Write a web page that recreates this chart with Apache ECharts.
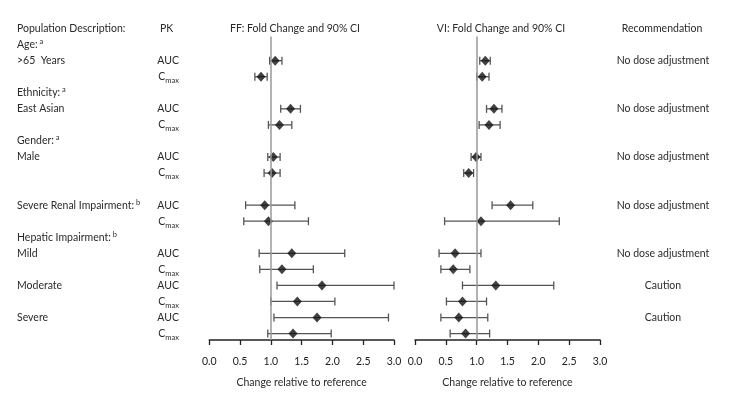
<!DOCTYPE html>
<html><head><meta charset="utf-8">
<script src="https://cdn.jsdelivr.net/npm/echarts@6/dist/echarts.min.js"></script>
<style>html,body{margin:0;padding:0;background:#fff}#c{width:729px;height:393px}</style>
</head><body><div id="c"></div>
<script>
// row slot of each PK line (slot 0 = header row)
const rowSlots = [2, 3, 5, 6, 8, 9, 11, 12, 14, 15, 16, 17, 18, 19];
const pkLabels = ['AUC','Cmax','AUC','Cmax','AUC','Cmax','AUC','Cmax','AUC','Cmax','AUC','Cmax','AUC','Cmax'];
const ffEst  = [1.07, 0.84, 1.32, 1.14, 1.04, 1.02, 0.90, 0.96, 1.34, 1.18, 1.83, 1.43, 1.75, 1.36];
const ffLow  = [0.98, 0.74, 1.16, 0.96, 0.95, 0.89, 0.59, 0.56, 0.81, 0.82, 1.10, 1.00, 1.05, 0.95];
const ffHigh = [1.18, 0.94, 1.48, 1.34, 1.15, 1.15, 1.39, 1.61, 2.20, 1.69, 3.00, 2.04, 2.91, 1.98];
const viEst  = [1.14, 1.09, 1.28, 1.20, 0.99, 0.87, 1.55, 1.07, 0.65, 0.62, 1.31, 0.77, 0.71, 0.82];
const viLow  = [1.05, 1.00, 1.16, 1.04, 0.91, 0.79, 1.25, 0.48, 0.39, 0.42, 0.77, 0.51, 0.42, 0.57];
const viHigh = [1.22, 1.20, 1.41, 1.38, 1.07, 0.95, 1.91, 2.34, 1.07, 0.89, 2.25, 1.16, 1.18, 1.21];
const xTicks = [0, 0.5, 1.0, 1.5, 2.0, 2.5, 3.0];
// description labels: slot, text, superscript
const descSlots = [1, 2, 4, 5, 7, 8, 11, 13, 14, 16, 18];
const descTexts = ['Age:', '>65  Years', 'Ethnicity:', 'East Asian', 'Gender:', 'Male', 'Severe Renal Impairment:', 'Hepatic Impairment:', 'Mild', 'Moderate', 'Severe'];
const descSups  = ['a', '', 'a', '', 'a', '', 'b', 'b', '', '', ''];
const recSlots = [2, 5, 8, 11, 14, 16, 18];
const recTexts = ['No dose adjustment','No dose adjustment','No dose adjustment','No dose adjustment','No dose adjustment','Caution','Caution'];
const headers = ['Population Description:', 'PK', 'FF: Fold Change and 90% CI', 'VI: Fold Change and 90% CI', 'Recommendation'];

const FONT = 'Lato';
const TXT = '#2a2a2a';
const chart = echarts.init(document.getElementById('c'), null, {renderer: 'canvas'});

function ciRender(params, api) {
  const y = api.coord([0, api.value(0)])[1];
  const x1 = api.coord([api.value(1), 0])[0];
  const x2 = api.coord([api.value(2), 0])[0];
  const h = 4;
  const style = {stroke: '#555', lineWidth: 1.3};
  return {type: 'group', children: [
    {type: 'line', shape: {x1: x1, y1: y, x2: x2, y2: y}, style: style},
    {type: 'line', shape: {x1: x1, y1: y - h, x2: x1, y2: y + h}, style: style},
    {type: 'line', shape: {x1: x2, y1: y - h, x2: x2, y2: y + h}, style: style}
  ]};
}

const TOP = 36.6, PLOTH = 307.6;
function xAx(gi) {
  return {
    gridIndex: gi, type: 'value', min: 0, max: 3, interval: 0.5,
    name: 'Change relative to reference', nameLocation: 'middle', nameGap: 37,
    nameTextStyle: {fontFamily: FONT, fontSize: 10.5, color: TXT},
    axisLine: {show: true, onZero: false, lineStyle: {color: '#222', width: 1.5}},
    axisTick: {show: true, inside: false, length: 5, lineStyle: {color: '#222', width: 1.3}},
    axisLabel: {formatter: v => v.toFixed(1), fontFamily: FONT, fontSize: 10.5, color: '#222', margin: 16},
    splitLine: {show: false}
  };
}
function yAx(gi) {
  return {gridIndex: gi, type: 'value', inverse: true, min: 0.5, max: 19.4, show: false};
}
function panelSeries(gi, est, low, high) {
  const ci = rowSlots.map((s, i) => [s, low[i], high[i]]);
  const pts = rowSlots.map((s, i) => [est[i], s]);
  return [
    {type: 'custom', xAxisIndex: gi, yAxisIndex: gi, renderItem: ciRender, data: ci,
     encode: {x: [1, 2], y: 0}, silent: true, z: 2,
     markLine: {silent: true, symbol: 'none', label: {show: false},
       lineStyle: {color: '#999', width: 1.5, type: 'solid'}, data: [{xAxis: 1}]}},
    {type: 'scatter', xAxisIndex: gi, yAxisIndex: gi, data: pts, symbol: 'diamond',
     symbolSize: [9, 10], itemStyle: {color: '#111'}, silent: true, z: 3}
  ];
}

const option = {
  animation: false,
  backgroundColor: '#fff',
  grid: [
    {left: 209.3, width: 184.7, top: TOP, height: PLOTH},
    {left: 415, width: 185, top: TOP, height: PLOTH}
  ],
  xAxis: [xAx(0), xAx(1)],
  yAxis: [yAx(0), yAx(1)],
  series: [].concat(panelSeries(0, ffEst, ffLow, ffHigh), panelSeries(1, viEst, viLow, viHigh))
};
chart.setOption(option);

// text columns placed on the same row scale
const yOf = s => chart.convertToPixel({yAxisIndex: 0}, s);
const base = {fontFamily: FONT, fontSize: 10.5, fill: TXT, textVerticalAlign: 'middle'};
const g = [];
const y0 = yOf(0);
g.push({type: 'text', x: 17, y: y0, style: Object.assign({}, base, {text: headers[0], textAlign: 'left'})});
g.push({type: 'text', x: 160, y: y0, style: Object.assign({}, base, {text: headers[1], textAlign: 'left'})});
g.push({type: 'text', x: 295, y: y0, style: Object.assign({}, base, {text: headers[2], textAlign: 'center'})});
g.push({type: 'text', x: 501, y: y0, style: Object.assign({}, base, {text: headers[3], textAlign: 'center'})});
g.push({type: 'text', x: 662, y: y0, style: Object.assign({}, base, {text: headers[4], textAlign: 'center'})});
descSlots.forEach((s, i) => {
  const t = descSups[i] ? '{t|' + descTexts[i] + '}{u| ' + descSups[i] + '}' : '{t|' + descTexts[i] + '}';
  g.push({type: 'text', x: 17, y: yOf(s), style: Object.assign({}, base, {
    text: t, textAlign: 'left',
    rich: {t: {fontFamily: FONT, fontSize: 10.5, color: TXT, lineHeight: 14},
           u: {fontFamily: FONT, fontSize: 7.5, color: TXT, verticalAlign: 'top', lineHeight: 8}}
  })});
});
rowSlots.forEach((s, i) => {
  const t = pkLabels[i] === 'Cmax' ? '{c|C}{s|max}' : '{c|AUC}';
  g.push({type: 'text', x: 179, y: yOf(s), style: Object.assign({}, base, {
    text: t, textAlign: 'right',
    rich: {c: {fontFamily: FONT, fontSize: 10.5, color: TXT, lineHeight: 16},
           s: {fontFamily: FONT, fontSize: 7.5, color: TXT, verticalAlign: 'bottom', lineHeight: 10}}
  })});
});
recSlots.forEach((s, i) => {
  g.push({type: 'text', x: 663, y: yOf(s), style: Object.assign({}, base, {text: recTexts[i], textAlign: 'center'})});
});
chart.setOption({graphic: g});
</script>
</body></html>
